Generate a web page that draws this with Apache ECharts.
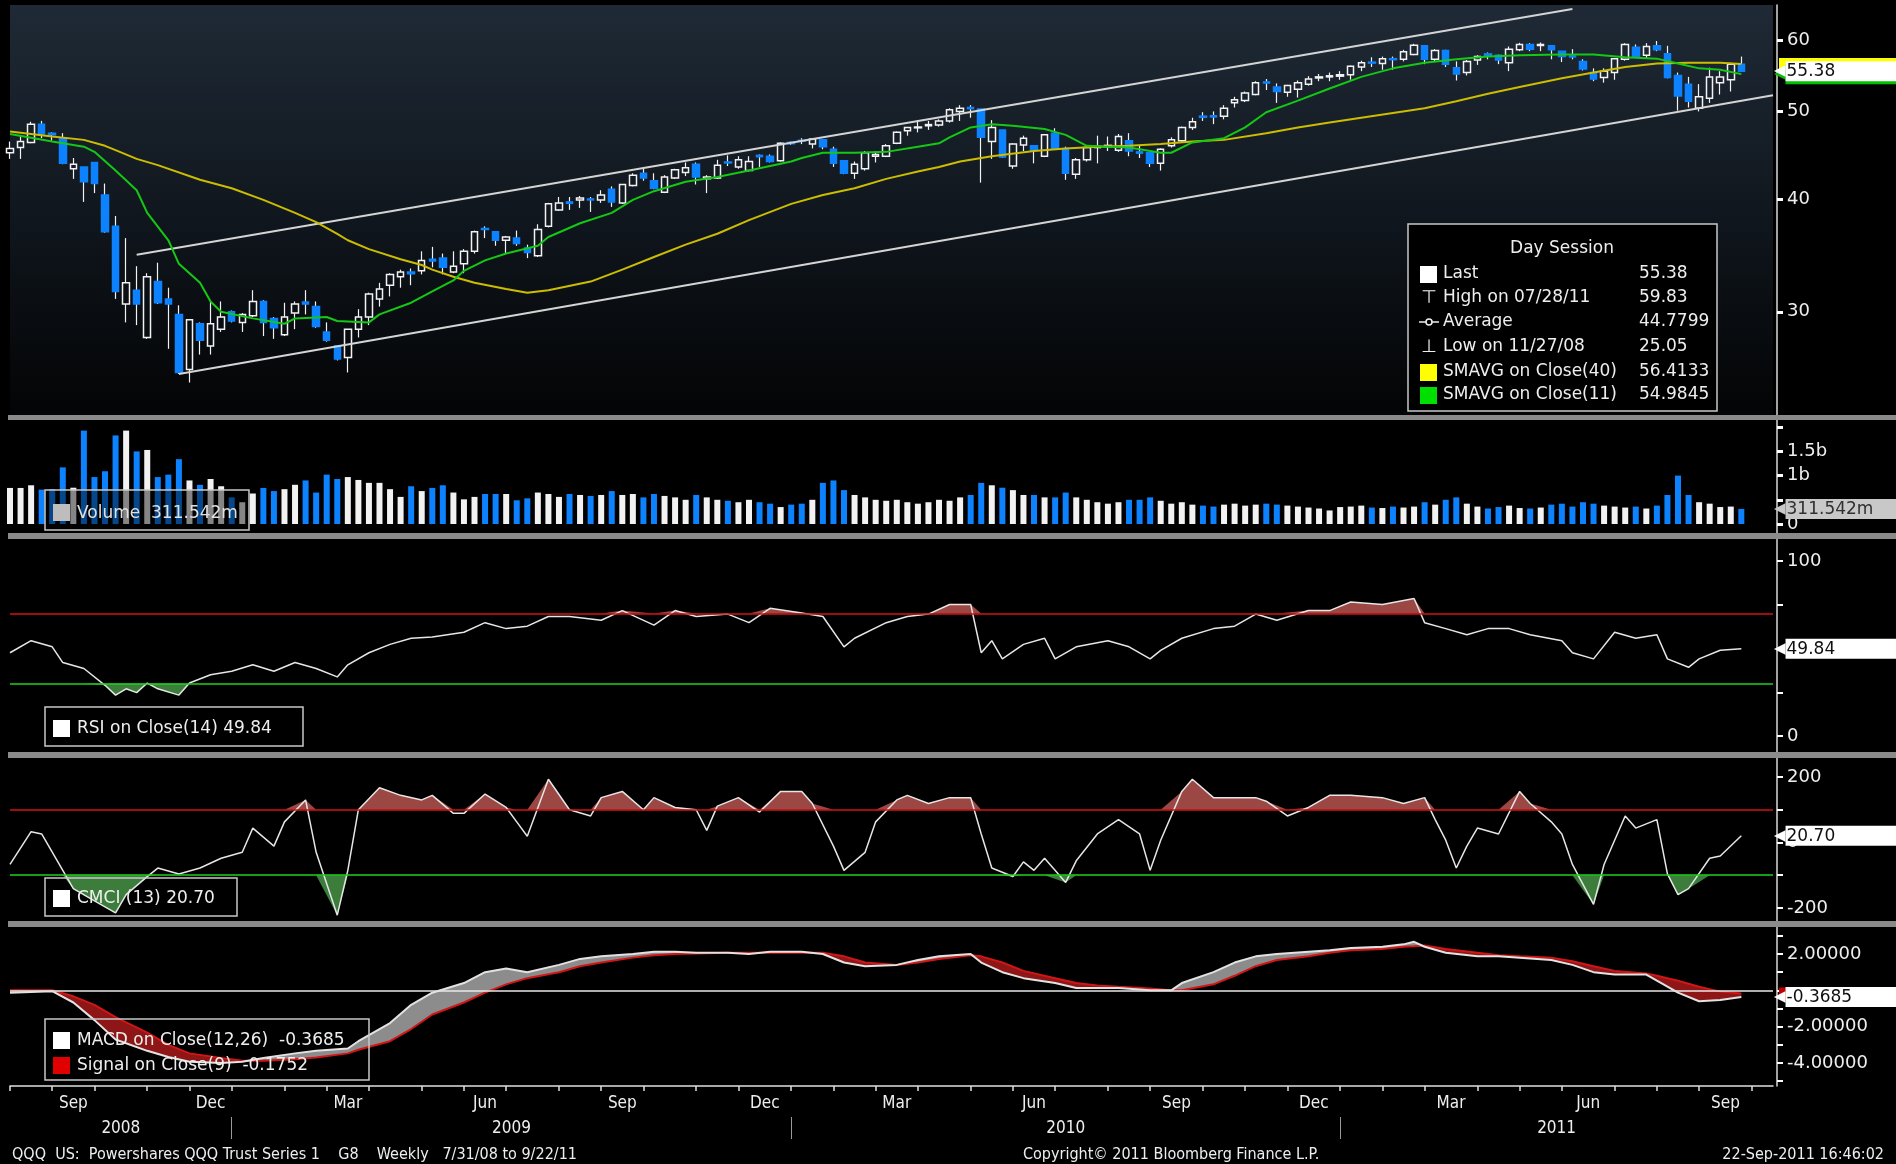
<!DOCTYPE html>
<html>
<head>
<meta charset="utf-8">
<title>QQQ US Weekly</title>
<script src="https://cdn.jsdelivr.net/npm/echarts@6/dist/echarts.min.js"></script>
<style>
html,body{margin:0;padding:0;background:#000;overflow:hidden;}
#chart{width:1896px;height:1164px;}
</style>
</head>
<body>
<div id="chart"></div>
<script>
// ---------------- DATA ----------------
const opens = [45.0,45.6,46.2,48.4,47.3,46.7,43.2,43.4,43.9,40.4,
37.3,30.6,31.7,28.1,32.4,31.0,29.8,25.9,29.1,27.5,
28.7,30.0,29.2,29.7,30.8,29.5,28.3,29.9,30.75,30.4,
28.5,27.5,26.7,28.7,29.6,31.0,32.1,32.8,33.2,33.3,
34.3,34.4,33.2,33.9,35.0,37.1,36.8,36.0,36.2,35.3,
34.6,37.3,38.9,39.7,39.9,40.0,39.9,41.0,39.6,41.4,
42.7,41.9,40.7,42.2,42.8,43.7,42.1,42.2,43.95,43.4,
43.0,44.7,44.6,44.1,46.2,46.45,46.0,46.5,45.4,44.1,
42.7,43.2,44.6,44.6,46.1,47.6,47.95,48.2,48.3,48.8,
50.0,50.5,50.3,46.3,47.7,43.5,45.9,45.8,44.6,47.3,
45.5,42.6,44.2,45.6,45.7,45.3,46.4,45.1,45.0,43.8,
45.8,46.4,48.0,49.4,49.45,49.4,51.1,51.4,52.2,53.9,
53.2,52.5,52.9,53.6,54.45,54.6,54.7,54.9,56.0,56.7,
56.5,57.2,57.1,57.8,59.1,57.1,58.4,55.9,55.2,57.0,
57.9,57.7,56.6,58.5,59.3,59.15,59.1,58.3,57.6,56.8,
55.2,54.5,55.2,57.1,58.9,57.7,59.1,57.9,54.8,53.6,
50.4,51.7,53.8,54.2,56.4];
const highs = [46.3,46.9,48.7,48.8,47.4,47.3,44.4,43.4,43.9,41.6,
38.3,36.2,33.7,33.1,34.0,31.9,30.5,29.4,29.2,30.8,
30.8,30.1,29.9,31.7,30.9,29.6,30.7,30.8,31.7,30.8,
29.2,27.5,28.7,30.2,31.5,32.3,33.1,33.4,33.5,35.0,
35.4,34.8,35.0,35.2,36.9,37.3,36.8,36.4,36.9,35.6,
37.5,39.6,40.2,40.2,40.3,40.2,40.9,41.3,41.5,42.7,
43.2,42.7,42.5,43.2,43.9,43.9,42.5,44.2,44.7,44.6,
44.6,44.8,44.8,46.2,46.3,46.7,46.7,46.5,45.7,44.1,
44.0,45.2,45.2,46.0,47.5,48.0,48.9,48.8,49.0,50.4,
50.8,50.8,50.3,48.9,47.7,46.1,47.0,45.9,47.2,47.9,
45.7,44.4,45.8,47.0,46.9,47.2,47.3,45.9,45.0,45.5,
46.8,48.1,49.2,49.9,50.0,50.8,51.9,52.6,54.0,54.3,
53.7,53.5,54.1,54.7,55.0,55.2,55.4,56.2,56.9,57.4,
57.5,57.5,58.5,59.4,59.2,58.6,58.5,56.8,57.0,57.7,
58.1,57.8,59.0,59.55,59.5,59.6,59.1,58.3,58.6,57.1,
55.8,55.8,57.3,59.5,59.3,59.5,59.83,59.1,55.2,54.6,
53.6,55.9,55.4,56.6,57.5];
const lows = [44.3,44.3,46.1,46.7,46.4,43.7,42.1,39.7,40.6,36.7,
31.0,29.2,29.0,28.0,30.6,27.3,25.6,25.05,26.9,26.9,
28.5,29.2,28.5,29.6,28.2,28.0,28.2,28.7,29.8,28.8,
27.8,26.5,25.7,28.1,29.0,30.4,31.2,31.9,32.1,33.0,
33.6,33.0,33.1,33.1,34.8,36.2,35.5,34.8,35.5,34.4,
34.5,37.2,38.8,38.9,39.1,38.7,39.6,39.2,39.5,41.3,
41.9,41.0,40.6,42.1,42.4,41.5,40.6,42.1,43.5,43.2,
42.9,43.4,43.9,44.0,45.9,46.0,45.5,45.4,43.4,42.6,
42.1,43.0,43.9,44.5,46.0,47.0,47.4,47.7,48.1,48.6,
48.8,49.2,41.7,44.3,44.4,43.2,45.2,43.8,44.5,45.4,
42.0,42.1,44.0,43.8,45.2,45.1,44.6,44.4,43.4,43.0,
45.6,46.3,47.7,48.8,48.4,49.0,50.5,51.2,52.1,52.8,
51.1,51.9,51.8,53.4,54.0,54.0,54.2,54.2,55.4,56.0,
55.6,55.6,56.8,57.7,56.4,56.7,56.0,54.1,54.8,56.3,
57.1,56.4,55.4,58.3,58.3,58.3,57.1,56.7,57.1,55.5,
54.0,53.8,54.2,56.9,57.3,57.2,58.3,54.4,50.1,50.5,
50.0,51.1,52.2,52.6,55.3];
const closes = [45.5,46.3,48.4,47.2,47.1,43.8,43.7,41.8,41.6,36.8,
31.6,32.3,30.6,32.8,30.7,30.6,25.7,29.4,27.9,29.1,
29.6,29.3,29.8,30.8,29.2,28.8,29.6,30.6,30.6,28.9,
27.9,26.6,28.7,29.6,31.4,31.8,33.0,33.2,33.05,34.2,
34.15,33.6,33.7,35.0,36.8,37.0,36.0,36.3,35.7,34.9,
37.0,39.5,39.6,39.55,40.1,39.9,40.4,39.7,41.5,42.5,
42.2,41.1,42.3,43.1,43.3,42.3,42.3,43.6,43.85,44.2,
44.0,44.55,44.0,46.1,46.05,46.35,46.6,45.7,43.8,42.7,
43.7,45.0,44.8,45.8,47.4,48.0,48.05,48.35,48.8,50.2,
50.4,50.35,46.8,48.0,44.5,46.0,46.7,45.3,47.1,45.5,
42.7,44.2,45.6,45.75,45.85,46.9,45.2,44.95,43.8,45.4,
46.5,48.0,48.7,49.25,49.3,50.4,51.5,52.4,53.8,53.75,
52.6,53.4,53.8,54.3,54.6,54.75,54.9,56.1,56.6,56.55,
57.2,57.05,58.2,59.2,57.1,58.4,56.4,55.0,56.8,57.5,
57.7,57.0,58.6,59.3,58.6,59.3,58.5,57.5,57.45,55.7,
54.3,55.4,57.2,59.3,57.4,59.0,58.5,54.5,52.0,51.3,
51.9,54.6,54.6,56.4,55.38];
// weekly volume, billions of shares
const volumes = [0.745,0.745,0.80,0.71,0.72,1.17,0.75,1.93,0.97,1.09,
1.83,1.93,1.50,1.53,0.97,1.02,1.34,0.90,0.81,0.93,
0.78,0.55,0.45,0.63,0.745,0.68,0.72,0.81,0.90,0.65,
1.02,0.93,0.97,0.91,0.85,0.85,0.72,0.56,0.78,0.68,
0.745,0.80,0.65,0.51,0.56,0.62,0.62,0.62,0.49,0.53,
0.65,0.62,0.56,0.62,0.60,0.58,0.60,0.68,0.60,0.62,
0.55,0.62,0.58,0.55,0.50,0.60,0.55,0.50,0.48,0.45,
0.50,0.45,0.42,0.35,0.40,0.42,0.50,0.85,0.90,0.70,
0.60,0.55,0.50,0.48,0.50,0.45,0.42,0.45,0.50,0.48,
0.55,0.60,0.85,0.80,0.75,0.70,0.60,0.60,0.55,0.55,
0.65,0.55,0.50,0.45,0.42,0.45,0.50,0.50,0.55,0.48,
0.42,0.45,0.40,0.38,0.36,0.40,0.42,0.38,0.40,0.42,
0.40,0.38,0.36,0.34,0.32,0.28,0.35,0.36,0.38,0.34,
0.33,0.36,0.34,0.36,0.45,0.40,0.50,0.55,0.42,0.36,
0.32,0.35,0.38,0.33,0.32,0.34,0.40,0.42,0.36,0.45,
0.42,0.38,0.36,0.34,0.36,0.32,0.38,0.60,1.00,0.60,
0.45,0.42,0.35,0.36,0.311542];
// moving averages: [week index, value]
const sma40 = [[0,47.5],[4,46.9],[7,46.5],[9,45.8],[10,45.3],[12,44.3],[14,43.6],[18,42.0],[21,41.1],[24,39.9],[27,38.6],[29,37.7],[31,36.6],[32,36.0],[34,35.2],[37,34.3],[39,33.8],[40,33.4],[42,32.8],[44,32.3],[47,31.8],[49,31.5],[51,31.7],[55,32.4],[58,33.4],[61,34.5],[64,35.6],[67,36.6],[70,37.9],[74,39.5],[77,40.4],[80,41.1],[83,42.1],[86,42.9],[88,43.4],[90,44.0],[93,44.6],[97,45.2],[100,45.5],[103,45.7],[106,45.8],[109,46.0],[112,46.3],[115,46.5],[119,47.3],[122,48.0],[125,48.6],[128,49.2],[131,49.8],[134,50.4],[137,51.3],[140,52.3],[143,53.2],[147,54.4],[150,55.2],[153,56.0],[156,56.5],[159,56.6],[162,56.6],[164,56.4133]];
const sma11 = [[0,47.2],[4,46.3],[7,45.7],[8,45.1],[10,43.0],[12,40.9],[13,38.6],[15,36.0],[16,33.9],[18,32.3],[19,30.8],[20,30.0],[23,29.5],[26,29.1],[27,29.5],[30,29.6],[31,29.3],[34,29.2],[35,29.8],[38,30.7],[40,31.6],[42,32.5],[43,33.3],[45,34.2],[47,34.8],[50,35.5],[51,36.3],[54,37.6],[57,38.6],[59,39.9],[61,40.8],[64,41.8],[67,42.3],[70,43.0],[74,44.0],[75,44.4],[77,45.0],[80,45.0],[83,45.1],[86,45.7],[88,46.1],[89,46.8],[91,48.0],[93,48.4],[95,48.2],[98,47.8],[100,47.1],[102,45.8],[104,45.7],[106,45.6],[109,45.0],[110,45.0],[112,46.2],[115,46.7],[117,48.0],[119,49.9],[122,51.4],[125,53.0],[128,54.6],[131,55.8],[134,56.6],[137,57.1],[140,57.5],[143,57.7],[147,57.8],[150,57.8],[153,57.4],[156,57.2],[158,56.5],[160,55.8],[162,55.6],[164,54.9845]];
// channel trend lines: [week index, price]
const channelUpper = [[12,34.7],[148,64.9]];
const channelLower = [[16,25.6],[167,52.1]];
// indicators: [week index, value]
const rsi = [[0,47.6],[2,54.5],[4,51],[5,42],[7,38.6],[9,29],[10,23.4],[11,27],[12,24.8],[13,30.3],[14,27],[16,23.4],[17,30.3],[19,35],[21,37],[23,40.7],[25,37],[27,42],[29,38.6],[31,33.8],[32,40.7],[34,47.6],[36,52.4],[38,55.9],[40,56.6],[43,59.3],[45,64.8],[47,61.4],[49,62.8],[51,68.3],[53,68.3],[56,66.2],[58,71.7],[61,63.4],[63,71.7],[65,68.3],[68,69.7],[70,64.8],[72,73],[75,70.3],[77,68.3],[79,51],[80,55.9],[83,64.8],[85,68.3],[87,69.7],[89,75.2],[91,75.2],[92,47.6],[93,54.5],[94,44.1],[96,52.4],[98,55.9],[99,44.1],[101,51],[104,54.5],[106,51],[108,44.1],[109,49],[111,55.9],[114,61.4],[116,62.8],[118,69.7],[120,66.2],[123,71.7],[125,71.7],[127,76.6],[130,75.2],[133,78.6],[134,64.8],[136,61.4],[138,57.9],[140,61.4],[142,61.4],[144,57.9],[147,54.5],[148,47.6],[150,44.1],[152,59.3],[154,55.9],[156,57.9],[157,44.1],[159,39.3],[160,44.1],[162,49],[164,49.84]];
const cmci = [[0,-67],[2,33],[3,26],[5,-85],[6,-141],[8,-178],[10,-215],[11,-159],[13,-104],[14,-78],[16,-96],[18,-78],[20,-48],[22,-30],[23,44],[25,-11],[26,63],[28,130],[29,-30],[31,-222],[32,-85],[33,100],[35,167],[37,144],[39,130],[40,144],[42,89],[43,89],[45,148],[47,107],[48,63],[49,19],[51,193],[53,100],[55,81],[56,137],[58,156],[60,100],[61,137],[63,107],[65,100],[66,37],[67,111],[69,137],[71,93],[73,156],[75,156],[76,119],[78,-11],[79,-85],[81,-30],[82,63],[84,130],[85,144],[87,119],[89,137],[91,137],[92,26],[93,-78],[95,-104],[96,-59],[97,-85],[98,-48],[100,-122],[101,-56],[103,26],[105,70],[107,26],[108,-85],[109,7],[111,156],[112,193],[114,137],[118,137],[119,126],[121,81],[123,107],[125,144],[127,144],[130,137],[132,119],[134,137],[135,70],[136,7],[137,-78],[138,-11],[139,44],[141,26],[143,156],[144,119],[146,63],[147,26],[148,-67],[150,-189],[151,-67],[153,81],[154,44],[156,70],[157,-96],[158,-159],[159,-141],[161,-48],[162,-41],[164,20.7]];
const macdIdx = [0,4,6,8,10,13,15,17,20,22,24,27,29,32,33,36,38,40,43,45,47,49,52,54,56,59,61,63,65,68,70,72,75,77,79,81,84,86,88,91,92,94,96,99,101,103,105,108,110,111,114,116,118,120,123,125,127,130,132,133,134,136,139,141,143,146,148,150,152,155,156,158,160,162,164];
const macdVals = [-0.13,-0.05,-0.67,-1.64,-2.71,-3.33,-3.67,-3.93,-4.0,-3.93,-3.73,-3.47,-3.33,-3.2,-2.8,-1.8,-0.8,-0.13,0.4,1.0,1.2,1.0,1.4,1.73,1.87,2.0,2.13,2.13,2.07,2.07,2.0,2.13,2.13,2.0,1.53,1.33,1.4,1.67,1.87,2.0,1.53,1.0,0.67,0.4,0.13,0.13,0.13,0,0,0.4,1.0,1.53,1.87,2.0,2.13,2.2,2.33,2.4,2.53,2.67,2.4,2.07,1.87,1.87,1.8,1.67,1.4,1.0,0.87,0.87,0.53,-0.13,-0.6,-0.53,-0.3685];
const signalVals = [0,0,-0.33,-0.8,-1.47,-2.33,-3.0,-3.47,-3.73,-3.87,-3.87,-3.8,-3.7,-3.47,-3.27,-2.8,-2.13,-1.33,-0.67,-0.13,0.33,0.67,1.0,1.33,1.53,1.8,1.93,2.0,2.03,2.07,2.07,2.07,2.07,2.07,1.87,1.53,1.4,1.53,1.73,1.93,1.87,1.53,1.07,0.67,0.4,0.27,0.2,0.1,0,0,0.33,0.8,1.33,1.67,1.87,2.07,2.2,2.27,2.4,2.43,2.47,2.27,2.07,1.93,1.87,1.8,1.6,1.33,1.07,0.93,0.8,0.53,0.2,-0.07,-0.1752];
const rsiLevels = [70, 30];
const cmciLevels = [100, -100];
// axis tick labels
const priceTicks = [30, 40, 50, 60];
const volTicks = [0, 0.5, 1, 1.5, 2];
const volLabels = [0, 1, 1.5];
const rsiTicks = [0, 25, 50, 75, 100];
const rsiLabels = [0, 100];
const cmciTicks = [-200, -100, 0, 100, 200];
const cmciLabels = [-200, 0, 200];
const macdTicks = [-5, -4, -3, -2, -1, 0, 1, 2, 3];
const macdLabels = [-4, -2, 2];
const monthNames = ['Jan','Feb','Mar','Apr','May','Jun','Jul','Aug','Sep','Oct','Nov','Dec'];
// legend / summary values
const lastPrice = 55.38, sma40Last = 56.4133, sma11Last = 54.9845;
const lastVolume = 0.311542, lastRsi = 49.84, lastCmci = 20.70, lastMacd = -0.3685, lastSignal = -0.1752;
const sessionRows = [
  ['Last', '55.38'],
  ['High on 07/28/11', '59.83'],
  ['Average', '44.7799'],
  ['Low on 11/27/08', '25.05'],
  ['SMAVG on Close(40)', '56.4133'],
  ['SMAVG on Close(11)', '54.9845']
];

// ---------------- categories (weekly, Thursdays) ----------------
const NCAT = 168;
const categories = [];
for (let i = 0; i < NCAT; i++) {
  const d = new Date(Date.UTC(2008, 6, 31) + i * 7 * 86400000);
  categories.push(d.toISOString().slice(0, 10));
}
const monthOf = i => +categories[i].slice(5, 7) - 1;
const monthTicks = [];
for (let i = 0; i < NCAT - 1; i++) if (monthOf(i) !== monthOf(i + 1)) monthTicks.push(i);
const quarterPos = [], quarterLabel = {};
for (let k = 1; k < monthTicks.length; k++) {
  const m = monthOf(monthTicks[k]);
  if (m % 3 === 2) { const p = (monthTicks[k - 1] + monthTicks[k]) / 2; quarterPos.push(p); quarterLabel[p] = monthNames[m]; }
}
const yearSeps = monthTicks.filter(t => monthOf(t) === 11);
const yb = [0, ...yearSeps, NCAT - 1];
const yearPos = [], yearLabel = {};
for (let k = 0; k < yb.length - 1; k++) {
  const p = (yb[k] + yb[k + 1]) / 2; yearPos.push(p); yearLabel[p] = categories[yb[k] + 1].slice(0, 4);
}

// ---------------- derived drawing data ----------------
const upperWick = opens.map((o, i) => { const t = Math.max(o, closes[i]); return [t, t, t, highs[i]]; });
const lowerWick = opens.map((o, i) => { const b = Math.min(o, closes[i]); return [b, b, lows[i], b]; });
const bodies = opens.map((o, i) => [o, closes[i], Math.min(o, closes[i]), Math.max(o, closes[i])]);
const BLUE = '#0c82ff', WHITE = '#f2f2f2', TXT = '#eeeeee';
const volData = volumes.map((v, i) => ({ value: v, itemStyle: { color: closes[i] >= opens[i] ? WHITE : BLUE } }));

const FONT = '"DejaVu Sans", Verdana, sans-serif';
const FONTC = '"DejaVu Sans Condensed", "Liberation Sans Narrow", "DejaVu Sans", sans-serif';
const RED = '#d21414', GREEN = '#1ed21e', REDFILL = '#9b4744', GREENFILL = '#3c7d3c';

// value callout on the right axis (box with a left pointer)
function callout(val, text, bg, fg, size) {
  const item = { yAxis: val, lineStyle: { color: 'rgba(0,0,0,0)', width: 0, opacity: 1 } };
  if (size === 'small') {
    item.label = { show: true, position: 'end', distance: 6, formatter: text, backgroundColor: bg, color: fg,
      fontFamily: FONT, fontSize: 10, lineHeight: 10, padding: [1, 140, 1, 4] };
  } else {
    item.label = { show: true, position: 'end', distance: 1, formatter: '{t|\u25C0}{b|' + text + '}',
      rich: {
        t: { color: bg, fontSize: 15, lineHeight: 19, fontFamily: FONT },
        b: { backgroundColor: bg, color: fg, fontSize: 17, lineHeight: 18, padding: [2, 140, 1, 1], fontFamily: FONT }
      } };
  }
  return item;
}
function level(val, color) {
  return { yAxis: val, lineStyle: { color, width: 1.5, type: 'solid' }, label: { show: false } };
}
function fillPair(points, lvl, above, stackName, color, xi) {
  const base = points.map(([i, v]) => [i, above ? lvl : Math.min(v, lvl)]);
  const fill = points.map(([i, v]) => [i, above ? Math.max(v - lvl, 0) : lvl - Math.min(v, lvl)]);
  const common = { type: 'line', xAxisIndex: xi, yAxisIndex: xi, stack: stackName, stackStrategy: 'all', symbol: 'none', silent: true, lineStyle: { width: 0, opacity: 0 }, z: 2 };
  return [Object.assign({ data: base }, common), Object.assign({ data: fill, areaStyle: { color, opacity: 1 } }, common)];
}
const macdBase = macdIdx.map((x, k) => [x, Math.min(macdVals[k], signalVals[k])]);
const macdPos = macdIdx.map((x, k) => [x, Math.max(macdVals[k] - signalVals[k], 0)]);
const macdNeg = macdIdx.map((x, k) => [x, Math.max(signalVals[k] - macdVals[k], 0)]);
const macdLine = macdIdx.map((x, k) => [x, macdVals[k]]);
const signalLine = macdIdx.map((x, k) => [x, signalVals[k]]);

// ---------------- layout ----------------
const L = 10, W = 1763;
const grids = [
  { left: L, top: 5, width: W, height: 410 },
  { left: L, top: 420, width: W, height: 113 },
  { left: L, top: 539, width: W, height: 213 },
  { left: L, top: 758, width: W, height: 163 },
  { left: L, top: 927, width: W, height: 159 }
].map((g, k) => Object.assign(g, {
  show: true, borderWidth: 0, outerBoundsMode: 'none', containLabel: false,
  backgroundColor: k === 0 ? new echarts.graphic.LinearGradient(0, 0, 0, 1, [
    { offset: 0, color: '#1f2a36' }, { offset: 0.55, color: '#0f151c' }, { offset: 1, color: '#030405' }]) : '#000'
}));

const axisLineStyle = { show: true, onZero: false, lineStyle: { color: '#d8d8d8', width: 1.5 } };
function yAx(gi, extra) {
  return Object.assign({
    gridIndex: gi, position: 'right', offset: 4, axisLine: axisLineStyle, splitLine: { show: false },
    axisTick: { show: true, length: 6, lineStyle: { color: '#ffffff', width: 3 } },
    axisLabel: { color: TXT, fontSize: 18, fontFamily: FONT, margin: 10 }
  }, extra);
}
const yAxes = [
  yAx(0, { type: 'log', logBase: 10, min: 23.06, max: 65.58,
    axisTick: { show: true, customValues: priceTicks, length: 6, lineStyle: { color: '#fff', width: 3 } },
    axisLabel: { customValues: priceTicks, color: TXT, fontSize: 18, fontFamily: FONT, margin: 10 } }),
  yAx(1, { type: 'value', min: -0.186, max: 2.149,
    axisTick: { show: true, customValues: volTicks, length: 6, lineStyle: { color: '#fff', width: 3 } },
    axisLabel: { customValues: volLabels, formatter: v => v === 0 ? '0' : v + 'b', color: TXT, fontSize: 18, fontFamily: FONT, margin: 10 } }),
  yAx(2, { type: 'value', min: -9.1, max: 112.6,
    axisTick: { show: true, customValues: rsiTicks, length: 6, lineStyle: { color: '#fff', width: 2 } },
    axisLabel: { customValues: rsiLabels, color: TXT, fontSize: 18, fontFamily: FONT, margin: 10 } }),
  yAx(3, { type: 'value', min: -239.7, max: 258,
    axisTick: { show: true, customValues: cmciTicks, length: 6, lineStyle: { color: '#fff', width: 2 } },
    axisLabel: { customValues: cmciLabels, color: TXT, fontSize: 18, fontFamily: FONT, margin: 10 } }),
  yAx(4, { type: 'value', min: -5.266, max: 3.486,
    axisTick: { show: true, customValues: macdTicks, length: 6, lineStyle: { color: '#fff', width: 2 } },
    axisLabel: { customValues: macdLabels, formatter: v => v.toFixed(5), color: TXT, fontSize: 18, fontFamily: FONT, margin: 10 } })
];
const xAxes = [0, 1, 2, 3, 4].map(g => ({ gridIndex: g, type: 'category', data: categories, boundaryGap: false, show: false }));
xAxes.push({
  gridIndex: 4, type: 'value', min: 0, max: NCAT - 1, position: 'bottom',
  axisLine: { show: true, onZero: false, lineStyle: { color: '#e0e0e0', width: 1.5 } },
  axisTick: { show: true, customValues: monthTicks, length: 5, lineStyle: { color: '#e0e0e0', width: 1.5 } },
  axisLabel: { customValues: quarterPos, formatter: v => quarterLabel[v] || '', color: TXT, fontSize: 17, fontFamily: FONTC, margin: 9 },
  splitLine: { show: false }
});
xAxes.push({
  gridIndex: 4, type: 'value', min: 0, max: NCAT - 1, position: 'bottom', offset: 31,
  axisLine: { show: false, onZero: false },
  axisTick: { show: true, customValues: yearSeps, length: 22, lineStyle: { color: '#9a9a9a', width: 1 } },
  axisLabel: { customValues: yearPos, formatter: v => yearLabel[v] || '', color: TXT, fontSize: 17, fontFamily: FONTC, margin: 3 },
  splitLine: { show: false }
});

const lineBase = { type: 'line', symbol: 'none', showSymbol: false, silent: true, clip: false };
const series = [
  { type: 'candlestick', xAxisIndex: 0, yAxisIndex: 0, data: upperWick, barWidth: 1, silent: true, z: 3,
    itemStyle: { color: WHITE, color0: WHITE, borderColor: WHITE, borderColor0: WHITE, borderWidth: 1.2 },
    markLine: { silent: true, symbol: ['none', 'none'], label: { show: false }, lineStyle: { color: '#d4d4d4', width: 2, type: 'solid' },
      data: [[{ coord: channelUpper[0] }, { coord: channelUpper[1] }], [{ coord: channelLower[0] }, { coord: channelLower[1] }]] } },
  { type: 'candlestick', xAxisIndex: 0, yAxisIndex: 0, data: lowerWick, barWidth: 1, silent: true, z: 3,
    itemStyle: { color: WHITE, color0: WHITE, borderColor: WHITE, borderColor0: WHITE, borderWidth: 1.2 } },
  { type: 'candlestick', xAxisIndex: 0, yAxisIndex: 0, data: bodies, barWidth: 7, silent: true, z: 4,
    itemStyle: { color: 'rgba(0,0,0,0)', color0: BLUE, borderColor: WHITE, borderColor0: BLUE, borderWidth: 1.5 } },
  Object.assign({}, lineBase, { xAxisIndex: 0, yAxisIndex: 0, data: sma40, z: 5, lineStyle: { color: '#cdbd00', width: 2 },
    markLine: { silent: true, symbol: ['none', 'none'], data: [callout(sma40Last, '56.41', '#ffff00', '#ffff00', 'small')] } }),
  Object.assign({}, lineBase, { xAxisIndex: 0, yAxisIndex: 0, data: sma11, z: 5, lineStyle: { color: '#14c814', width: 2 },
    markLine: { silent: true, symbol: ['none', 'none'], data: [callout(sma11Last, '54.98', '#00c000', '#00c000'), callout(lastPrice, lastPrice.toFixed(2), '#ffffff', '#101010')] } }),
  { type: 'bar', xAxisIndex: 1, yAxisIndex: 1, data: volData, barWidth: 6, silent: true, clip: false,
    markLine: { silent: true, symbol: ['none', 'none'], data: [callout(lastVolume, '311.542m', '#c8c8c8', '#303030')] } },
  ...fillPair(rsi, rsiLevels[1], false, 'rsiG', GREENFILL, 2),
  ...fillPair(rsi, rsiLevels[0], true, 'rsiR', REDFILL, 2),
  Object.assign({}, lineBase, { xAxisIndex: 2, yAxisIndex: 2, data: rsi, z: 4, lineStyle: { color: '#e6e6e6', width: 1.5 },
    markLine: { silent: true, symbol: ['none', 'none'], data: [level(rsiLevels[0], RED), level(rsiLevels[1], GREEN), callout(lastRsi, lastRsi.toFixed(2), '#ffffff', '#101010')] } }),
  ...fillPair(cmci, cmciLevels[1], false, 'cmG', GREENFILL, 3),
  ...fillPair(cmci, cmciLevels[0], true, 'cmR', REDFILL, 3),
  Object.assign({}, lineBase, { xAxisIndex: 3, yAxisIndex: 3, data: cmci, z: 4, lineStyle: { color: '#e6e6e6', width: 1.5 },
    markLine: { silent: true, symbol: ['none', 'none'], data: [level(cmciLevels[0], RED), level(cmciLevels[1], GREEN), callout(lastCmci, lastCmci.toFixed(2), '#ffffff', '#101010')] } }),
  Object.assign({}, lineBase, { xAxisIndex: 4, yAxisIndex: 4, data: macdBase, stack: 'mf', stackStrategy: 'all', lineStyle: { width: 0, opacity: 0 }, z: 2 }),
  Object.assign({}, lineBase, { xAxisIndex: 4, yAxisIndex: 4, data: macdPos, stack: 'mf', stackStrategy: 'all', lineStyle: { width: 0, opacity: 0 }, areaStyle: { color: '#8c8c8c', opacity: 1 }, z: 2 }),
  Object.assign({}, lineBase, { xAxisIndex: 4, yAxisIndex: 4, data: macdNeg, stack: 'mf', stackStrategy: 'all', lineStyle: { width: 0, opacity: 0 }, areaStyle: { color: '#8e1616', opacity: 1 }, z: 2 }),
  Object.assign({}, lineBase, { xAxisIndex: 4, yAxisIndex: 4, data: signalLine, z: 4, lineStyle: { color: '#d01616', width: 2 },
    markLine: { silent: true, symbol: ['none', 'none'], data: [level(0, '#e8e8e8'), callout(lastSignal, '-0.1752', '#c00000', '#c00000', 'small')] } }),
  Object.assign({}, lineBase, { xAxisIndex: 4, yAxisIndex: 4, data: macdLine, z: 5, lineStyle: { color: '#e2e2e2', width: 2 },
    markLine: { silent: true, symbol: ['none', 'none'], data: [callout(lastMacd, lastMacd.toFixed(4), '#ffffff', '#101010')] } })
];

// ---------------- graphic (frames, legends, footer) ----------------
const G = [];
function gRect(x, y, w, h, style, z) { G.push({ type: 'rect', shape: { x, y, width: w, height: h }, style, z: z || 100, silent: true }); }
function gText(x, y, text, o) {
  o = o || {};
  G.push({ type: 'text', x, y, z: 101, silent: true, style: {
    text, fill: o.fill || TXT, fontSize: o.size || 17, fontFamily: o.family || FONT,
    textAlign: o.align || 'left', align: o.align || 'left', textVerticalAlign: 'middle', verticalAlign: 'middle' } });
}
[[415, 5], [533, 6], [752, 6], [921, 6]].forEach(([y, h]) => gRect(8, y, 1888, h, { fill: '#8a8a8a' }));
const NOFILL = 'rgba(0,0,0,0)';
// Day session box
gRect(1408, 224, 309, 187, { fill: '#000', stroke: '#c8c8c8', lineWidth: 1.5 });
gText(1562, 249, 'Day Session', { align: 'center' });
const rowY = [274, 298, 322, 347, 372, 395];
sessionRows.forEach((r, k) => { gText(1443, rowY[k], r[0]); gText(1639, rowY[k], r[1]); });
gRect(1420, 266, 17, 17, { fill: '#ffffff' });
gText(1429, 298, '\u22A4', { align: 'center', size: 18 });
G.push({ type: 'line', shape: { x1: 1419, y1: 322, x2: 1439, y2: 322 }, style: { stroke: '#eee', lineWidth: 1.5 }, z: 101, silent: true });
G.push({ type: 'circle', shape: { cx: 1429, cy: 322, r: 3 }, style: { fill: '#000', stroke: '#eee', lineWidth: 1.5 }, z: 102, silent: true });
gText(1429, 347, '\u22A5', { align: 'center', size: 18 });
gRect(1420, 364, 17, 17, { fill: '#ffff00' });
gRect(1420, 387, 17, 17, { fill: '#00e000' });
// Volume legend
gRect(45, 490, 204, 40, { fill: 'rgba(0,0,0,0.45)', stroke: '#c8c8c8', lineWidth: 1.5 });
gRect(53, 504, 17, 17, { fill: '#bdbdbd' });
gText(77, 514, 'Volume  311.542m', { fill: '#e0e0e0' });
// RSI legend
gRect(45, 707, 258, 39, { fill: NOFILL, stroke: '#c8c8c8', lineWidth: 1.5 });
gRect(53, 720, 17, 17, { fill: '#ffffff' });
gText(77, 729, 'RSI on Close(14) ' + lastRsi.toFixed(2));
// CMCI legend
gRect(45, 878, 192, 38, { fill: NOFILL, stroke: '#c8c8c8', lineWidth: 1.5 });
gRect(53, 890, 17, 17, { fill: '#ffffff' });
gText(77, 899, 'CMCI (13) ' + lastCmci.toFixed(2));
// MACD legend
gRect(45, 1019, 324, 61, { fill: NOFILL, stroke: '#c8c8c8', lineWidth: 1.5 });
gRect(53, 1032, 17, 17, { fill: '#ffffff' });
gText(77, 1041, 'MACD on Close(12,26)  ' + lastMacd.toFixed(4));
gRect(53, 1057, 17, 17, { fill: '#e00000' });
gText(77, 1066, 'Signal on Close(9)  ' + lastSignal.toFixed(4));
// footer
gText(12, 1155, 'QQQ  US:  Powershares QQQ Trust Series 1    G8    Weekly   7/31/08 to 9/22/11', { family: FONTC, size: 16 });
gText(1023, 1155, 'Copyright\u00A9 2011 Bloomberg Finance L.P.', { family: FONTC, size: 16 });
gText(1884, 1155, '22-Sep-2011 16:46:02', { family: FONTC, size: 16, align: 'right' });

const chart = echarts.init(document.getElementById('chart'), null, { renderer: 'canvas', width: 1896, height: 1164 });
chart.setOption({
  animation: false,
  backgroundColor: '#000',
  grid: grids,
  xAxis: xAxes,
  yAxis: yAxes,
  series,
  graphic: G
});
</script>
</body>
</html>
